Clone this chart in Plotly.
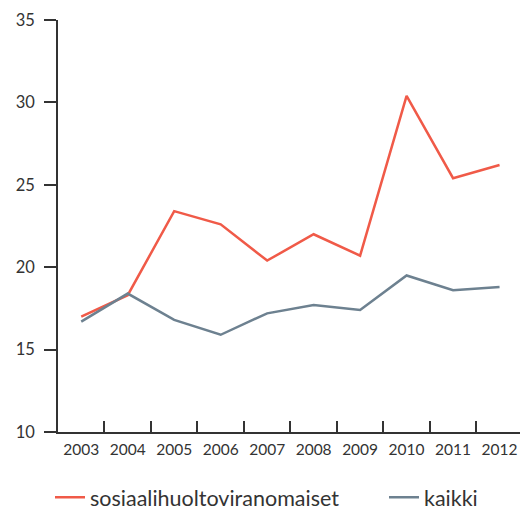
import plotly.graph_objects as go

years = ["2003", "2004", "2005", "2006", "2007", "2008", "2009", "2010", "2011", "2012"]
sosiaali = [17.0, 18.3, 23.4, 22.6, 20.4, 22.0, 20.7, 30.4, 25.4, 26.2]
kaikki = [16.7, 18.4, 16.8, 15.9, 17.2, 17.7, 17.4, 19.5, 18.6, 18.8]
y_ticks = [10, 15, 20, 25, 30, 35]

RED = "#F05A48"
GRAY = "#6D8190"
AXIS = "#333333"
FONT = "Lato"

W, H = 520, 511
ML, MT, MR = 58, 20, 0
PLOT_BOTTOM = 431.7
MB = H - PLOT_BOTTOM
PW = W - ML - MR
PH = PLOT_BOTTOM - MT

def px_x(px):
    return (px - ML) / PW

def px_y(py):
    return (PLOT_BOTTOM - py) / PH

fig = go.Figure()
fig.add_trace(go.Scatter(x=years, y=sosiaali, mode="lines", name="sosiaalihuoltoviranomaiset",
                         line=dict(color=RED, width=2.5), legend="legend"))
fig.add_trace(go.Scatter(x=years, y=kaikki, mode="lines", name="kaikki",
                         line=dict(color=GRAY, width=2.5), legend="legend2"))

leg_common = dict(orientation="h", yanchor="middle", font=dict(size=21.5, color=AXIS, family=FONT),
                  bgcolor="rgba(0,0,0,0)", borderwidth=0)

fig.update_layout(
    width=W, height=H,
    margin=dict(l=ML, r=MR, t=MT, b=MB, autoexpand=False),
    plot_bgcolor="white", paper_bgcolor="white",
    font=dict(family=FONT, color=AXIS, size=16),
    showlegend=True,
    legend=dict(x=px_x(50), xanchor="left", y=px_y(497), **leg_common),
    legend2=dict(x=px_x(384), xanchor="left", y=px_y(497), **leg_common),
    xaxis=dict(type="category", range=[-0.5, 9.44], showgrid=False, zeroline=False,
               showline=True, linecolor=AXIS, linewidth=1.5, automargin=False,
               ticks="inside", tickson="boundaries", ticklen=11, tickwidth=1.5, tickcolor=AXIS,
               tickangle=0, tickfont=dict(size=15.5, color=AXIS), ticklabelstandoff=3),
    yaxis=dict(range=[10, 35], tickvals=y_ticks, showgrid=False, zeroline=False,
               showline=True, linecolor=AXIS, linewidth=1.5, automargin=False,
               ticks="outside", ticklen=12, tickwidth=1.5, tickcolor=AXIS,
               tickfont=dict(size=16.5, color=AXIS), ticklabelstandoff=6),
)

fig.write_html(
    "out.html",
    config={"displayModeBar": False},
    post_script="document.body.style.margin='0';document.body.style.overflow='hidden';",
)
